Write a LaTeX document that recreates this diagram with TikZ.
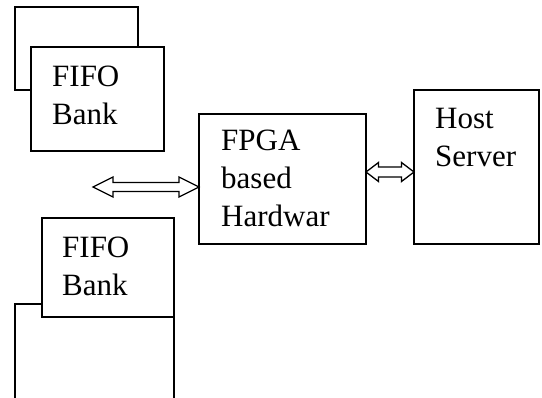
\documentclass[tikz,border=0pt]{standalone}
\usepackage{fontspec}
\setmainfont{Liberation Serif}
\usetikzlibrary{calc}

\tikzset{
  box/.style={draw=black, fill=white, line width=1.3pt, inner sep=0pt, outer sep=0pt},
  lbl/.style={inner sep=0pt, align=left, font=\fontsize{31}{38}\selectfont},
  arrowline/.style={draw=black, fill=white, line width=1.3pt, line join=miter}
}

% double-headed block arrow: from, to, head length, head half width, shaft half width
\newcommand{\dblarrow}[5]{%
  \draw[arrowline] (#1) -- ($(#1)+(#3,-#4)$) -- ($(#1)+(#3,-#5)$)
    -- ($(#2)+(-#3,-#5)$) -- ($(#2)+(-#3,-#4)$) -- (#2)
    -- ($(#2)+(-#3,#4)$) -- ($(#2)+(-#3,#5)$)
    -- ($(#1)+(#3,#5)$) -- ($(#1)+(#3,#4)$) -- cycle;}

\begin{document}
\begin{tikzpicture}[x=1pt, y=-1pt]
    % Page frame
    \useasboundingbox (0,0) rectangle (542,398);
    \clip (0,0) rectangle (542,398);

    % Upper FIFO bank (back and front)
    \node[box, minimum width=123pt, minimum height=83pt] (backtop) at (76.5,48.5) {};
    \node[box, minimum width=133pt, minimum height=104pt] (fifotop) at (97.5,99) {};
    \node[lbl, anchor=base west] (fifotoptext) at ($(fifotop.north west)+(21,78)$) {FIFO\\Bank};

    % Lower FIFO bank (back and front)
    \node[box, minimum width=159pt, minimum height=126pt] (backbot) at (94.5,367) {};
    \node[box, minimum width=132pt, minimum height=99pt] (fifobot) at (108,267.5) {};
    \node[lbl, anchor=base west] (fifobottext) at ($(fifobot.north west)+(20,78)$) {FIFO\\Bank};

    % FPGA hardware
    \node[box, minimum width=167pt, minimum height=130pt] (fpga) at (282.5,179) {};
    \node[lbl, anchor=base west] (fpgatext) at ($(fpga.north west)+(22,113)$) {FPGA\\based\\Hardwar};

    % Host server
    \node[box, minimum width=125pt, minimum height=154pt] (host) at (476.5,167) {};
    \node[lbl, anchor=base west] (hosttext) at ($(host.north west)+(21,77)$) {Host\\Server};

    % Connectors
    \coordinate (fifoend) at (93,187);
    \coordinate (fpgaleft) at (fpga.west |- fifoend);
    \dblarrow{fifoend}{fpgaleft}{20}{10}{4.5}

    \coordinate (fpgaright) at ($(fpga.east)+(0,-7)$);
    \coordinate (hostleft) at (host.west |- fpgaright);
    \dblarrow{fpgaright}{hostleft}{12.5}{9.5}{5}

\end{tikzpicture}
\end{document}
